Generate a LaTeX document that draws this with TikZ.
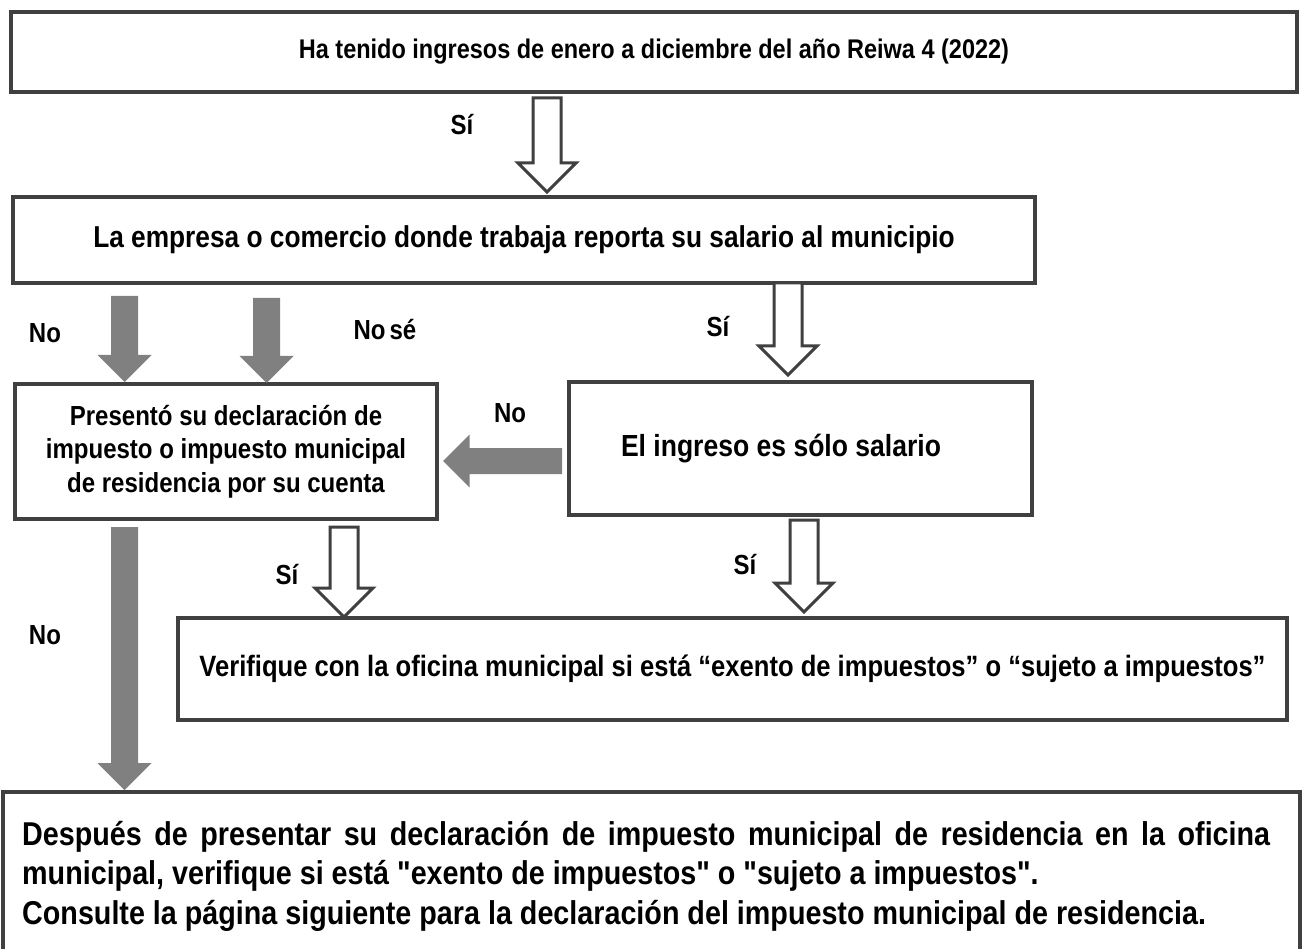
\documentclass[tikz,border=0pt]{standalone}
\usepackage{fontspec}
\setmainfont{Liberation Sans}[FakeStretch=0.87]
\newfontfamily\rawfont{Liberation Sans}[FakeStretch=0.87]
\usetikzlibrary{calc}
\definecolor{edge}{HTML}{404040}
\definecolor{solidgray}{HTML}{808080}
\tikzset{
  box/.style={draw=edge, line width=3.5pt, fill=white, inner sep=0pt, align=center},
  lbl/.style={inner sep=0pt, font=\bfseries\fontsize{27.6}{30}\selectfont},
  hollow/.style={draw=edge, line width=3pt, fill=white, line join=miter},
  solidarrow/.style={fill=solidgray, draw=none},
}
\newcommand{\blockdown}[5]{%
  \path[#1] let \p1=(#2), \p2=(#3) in
    (\x1-#4pt,\y1) -- (\x1+#4pt,\y1) -- (\x1+#4pt,\y2+#5pt) -- (\x1+#5pt,\y2+#5pt)
    -- (\x1,\y2) -- (\x1-#5pt,\y2+#5pt) -- (\x1-#4pt,\y2+#5pt) -- cycle;}
\newcommand{\blockleft}[5]{%
  \path[#1] let \p1=(#2), \p2=(#3) in
    (\x1,\y1+#4pt) -- (\x2+#5pt,\y1+#4pt) -- (\x2+#5pt,\y1+#5pt) -- (\x2,\y2)
    -- (\x2+#5pt,\y1-#5pt) -- (\x2+#5pt,\y1-#4pt) -- (\x1,\y1-#4pt) -- cycle;}
\begin{document}
\begin{tikzpicture}[x=1pt,y=-1pt]
\useasboundingbox (0,0) rectangle (1304,949);
\fill[white] (0,0) rectangle (1304,949);

% boxes
\node[box, minimum width=1286pt, minimum height=80pt,
  font=\bfseries\fontsize{27}{30}\selectfont] (b1) at (654,52)
  {Ha tenido ingresos de enero a diciembre del año Reiwa 4 (2022)};
\node[box, minimum width=1022pt, minimum height=86pt,
  font=\bfseries\fontsize{30.2}{33}\selectfont] (b2) at (524,240)
  {La empresa o comercio donde trabaja reporta su salario al municipio};
\node[box, minimum width=422pt, minimum height=135pt,
  font=\bfseries\fontsize{27.6}{33.5}\selectfont] (b3) at (226,451.5)
  {Presentó su declaración de\\impuesto o impuesto municipal\\de residencia por su cuenta};
\node[box, minimum width=463pt, minimum height=133pt] (b4) at (800.5,448.5) {};
\node[inner sep=0pt, font=\bfseries\fontsize{30.5}{33}\selectfont] (t4) at (781,449)
  {El ingreso es sólo salario};
\node[box, minimum width=1109pt, minimum height=102pt,
  font=\bfseries\fontsize{29.4}{33}\selectfont] (b5) at (732.5,669)
  {Verifique con la oficina municipal si está “exento de impuestos” o “sujeto a impuestos”};
\draw[edge, line width=3.5pt, fill=white] (3,792) rectangle (1300,960);
\node[inner sep=0pt, anchor=west, text width=1248pt, align=justify,
  font=\rawfont\bfseries\fontsize{33}{39.5}\selectfont] (b6) at (22,876)
  {Después de presentar su declaración de impuesto municipal de residencia en la oficina\linebreak
   municipal, verifique si está "exento de impuestos" o "sujeto a impuestos".\\
   Consulte la página siguiente para la declaración del impuesto municipal de residencia.};

% arrow end points
\coordinate (a1s) at (547,98);   \coordinate (a1e) at (547,192);
\coordinate (a2s) at (124.5,296); \coordinate (a2e) at (124.5,382);
\coordinate (a3s) at (266.5,298); \coordinate (a3e) at (266.5,383);
\coordinate (a4s) at (788,283);  \coordinate (a4e) at (788,375);
\coordinate (a5s) at (562,461);  \coordinate (a5e) at (443,461);
\coordinate (a6s) at (124.5,527); \coordinate (a6e) at (124.5,790);
\coordinate (a7s) at (344,527);  \coordinate (a7e) at (344,617);
\coordinate (a8s) at (804,520);  \coordinate (a8e) at (804,612);

\blockdown{hollow}{a1s}{a1e}{14}{29}
\blockdown{solidarrow}{a2s}{a2e}{13.5}{27}
\blockdown{solidarrow}{a3s}{a3e}{13.5}{27}
\blockdown{hollow}{a4s}{a4e}{14}{29}
\blockleft{solidarrow}{a5s}{a5e}{13}{26.5}
\blockdown{solidarrow}{a6s}{a6e}{13.5}{27}
\blockdown{hollow}{a7s}{a7e}{14}{29}
\blockdown{hollow}{a8s}{a8e}{14}{29}

% labels
\node[lbl] (l1) at (462,125) {Sí};
\node[lbl] (l2) at (45,333) {No};
\node[lbl] (l3) at (385,330) {No\kern4pt sé};
\node[lbl] (l4) at (718,327) {Sí};
\node[lbl] (l5) at (510,413) {No};
\node[lbl] (l6) at (45,635) {No};
\node[lbl] (l7) at (287,575) {Sí};
\node[lbl] (l8) at (745,565) {Sí};
\end{tikzpicture}
\end{document}
